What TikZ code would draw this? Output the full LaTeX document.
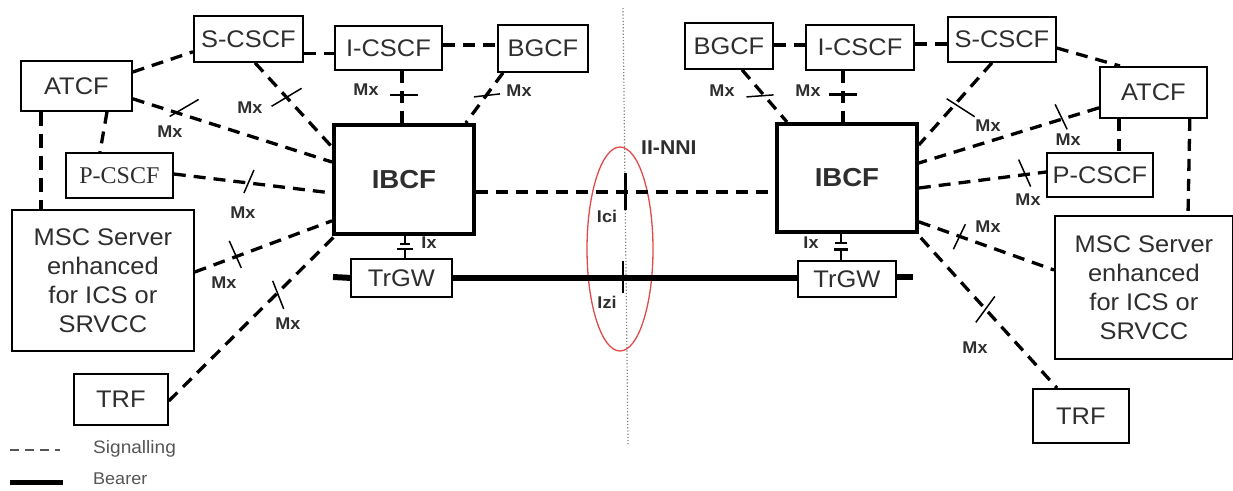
\documentclass[tikz,border=0pt]{standalone}
\usepackage{fontspec}
\setmainfont{Liberation Sans}[FakeStretch=1.06]
\newfontfamily\serifx{Liberation Serif}
\usetikzlibrary{calc,shapes.geometric}
\definecolor{txt}{HTML}{2E2E2E}
\definecolor{ovalred}{HTML}{E04A4A}
\definecolor{legtxt}{HTML}{555555}
\begin{document}
\begin{tikzpicture}[x=1pt,y=-1pt,
 box/.style={draw, line width=1.8pt, inner sep=0pt, anchor=north west, text=txt, font=\fontsize{24}{29}\selectfont, align=center},
 thickbox/.style={box, line width=3.8pt, font=\fontsize{26}{28}\selectfont\bfseries},
 sig/.style={line width=3.3pt, dash pattern=on 12pt off 8pt},
 sigheavy/.style={line width=4.5pt, dash pattern=on 14pt off 8pt},
 tk/.style={line width=1.5pt},
 ixline/.style={line width=2.4pt},
 lbl/.style={font=\fontsize{17}{18}\selectfont\bfseries, text=txt, inner sep=0pt},
 bearer/.style={line width=6pt},
 legend/.style={font=\fontsize{18}{20}\selectfont, text=legtxt, inner sep=0pt, anchor=west},
]
\useasboundingbox (0,0) rectangle (1233,490);

% ---------- left side nodes
\node[box, minimum width=111, minimum height=50] (atcfL) at (20,60) {ATCF};
\node[box, minimum width=109, minimum height=46] (scscfL) at (193,15) {S-CSCF};
\node[box, minimum width=107, minimum height=44] (icscfL) at (334,25) {I-CSCF};
\node[box, minimum width=90, minimum height=47] (bgcfL) at (497,24) {BGCF};
\node[thickbox, minimum width=140, minimum height=109] (ibcfL) at (332,123) {IBCF};
\node[box, minimum width=107, minimum height=45, font=\serifx\fontsize{24}{26}\selectfont] (pcscfL) at (65,152) {P-CSCF};
\node[box, minimum width=182, minimum height=141] (mscL) at (11,209) {MSC Server\\enhanced\\for ICS or\\SRVCC};
\node[box, minimum width=94, minimum height=51] (trfL) at (73,373) {TRF};
\node[box, minimum width=101, minimum height=38] (trgwL) at (350,258) {TrGW};

% ---------- right side nodes
\node[box, minimum width=88, minimum height=46] (bgcfR) at (684,22) {BGCF};
\node[box, minimum width=108, minimum height=45] (icscfR) at (805,24) {I-CSCF};
\node[box, minimum width=108, minimum height=45] (scscfR) at (947,16) {S-CSCF};
\node[box, minimum width=107, minimum height=51] (atcfR) at (1099,66) {ATCF};
\node[box, minimum width=106, minimum height=44] (pcscfR) at (1046,152) {P-CSCF};
\node[thickbox, minimum width=140, minimum height=108] (ibcfR) at (775,122) {IBCF};
\node[box, minimum width=178, minimum height=143] (mscR) at (1054,215) {MSC Server\\enhanced\\for ICS or\\SRVCC};
\node[box, minimum width=96, minimum height=54] (trfR) at (1032,388) {TRF};
\node[box, minimum width=98, minimum height=36] (trgwR) at (797,260) {TrGW};

% ---------- divider and oval
\coordinate (divtop) at (623,8);
\coordinate (divbot) at (628,444);
\draw[gray, dotted, line width=1.2pt] (divtop) -- (divbot);
\node[draw=ovalred, line width=1.3pt, ellipse, minimum width=66, minimum height=204, inner sep=0pt] (oval) at (620,249) {};
\node[font=\fontsize{20}{22}\selectfont\bfseries, text=txt, inner sep=0pt, anchor=west] (nni) at (641,148) {II-NNI};

% ---------- left connectors
\draw[sig] ($(atcfL.north east)+(0,12)$) -- ($(scscfL.south west)+(0,-11)$);
\draw[sig] ($(scscfL.south east)+(0,-9)$) -- ($(icscfL.south west)+(0,-17)$);
\draw[sig] ($(icscfL.north east)+(0,20)$) -- ($(bgcfL.north west)+(0,21)$);

\draw[sig] ($(scscfL.south west)+(62,0)$) -- coordinate[pos=0.41] (t4) ($(ibcfL.north west)+(0,24)$);
\draw[tk] ($(t4)+(-15,9)$) -- ($(t4)+(15,-9)$);
\node[lbl] (mx4) at (250,108) {Mx};

\draw[sig] ($(atcfL.south east)+(0,-13)$) -- coordinate[pos=0.2] (t5) ($(ibcfL.north west)+(0,39)$);
\draw[tk] ($(t5)+(-3,5)$) -- ($(t5)+(26,-12)$);
\node[lbl] (mx5) at (170,132) {Mx};

\draw[sig] ($(atcfL.south west)+(87,0)$) -- ($(pcscfL.north west)+(35,0)$);
\draw[sigheavy] ($(atcfL.south west)+(21,0)$) -- ($(mscL.north west)+(30,0)$);

\draw[sig] ($(pcscfL.north east)+(0,22)$) -- coordinate[pos=0.475] (t8) ($(ibcfL.north west)+(0,70)$);
\draw[tk] ($(t8)+(-5,10)$) -- ($(t8)+(5,-13)$);
\node[lbl] (mx8) at (243,213) {Mx};

\draw[sig] ($(mscL.north east)+(0,63)$) -- coordinate[pos=0.295] (t9) ($(ibcfL.south west)+(0,-15)$);
\draw[tk] ($(t9)+(-6,-16)$) -- ($(t9)+(6,11)$);
\node[lbl] (mx9) at (224,283) {Mx};

\draw[sig] ($(trfL.north east)+(0,28)$) -- coordinate[pos=0.655] (t10) ($(ibcfL.south west)+(3,0)$);
\draw[tk] ($(t10)+(-5,-12)$) -- ($(t10)+(6,16)$);
\node[lbl] (mx10) at (288,324) {Mx};

\draw[sig] ($(icscfL.south west)+(68,0)$) -- coordinate[pos=0.46] (t11) ($(ibcfL.north west)+(70,0)$);
\draw[ixline] ($(t11)+(-12,0)$) -- ($(t11)+(16,0)$);
\node[lbl] (mx11) at (366,90) {Mx};

\draw[sig] ($(bgcfL.south west)+(6,0)$) -- coordinate[pos=0.46] (t12) ($(ibcfL.north east)+(-10,0)$);
\draw[tk] ($(t12)+(-12,1)$) -- ($(t12)+(14,-2)$);
\node[lbl] (mx12) at (519,91) {Mx};

% Ix left
\coordinate (ixLa) at ($(ibcfL.south west)+(73,0)$);
\coordinate (ixLb) at ($(trgwL.north west)+(55,0)$);
\draw[ixline] (ixLa) -- ($(ixLa)!0.36!(ixLb)$) ++(-5,0) -- ++(10,0);
\draw[ixline] (ixLb) -- ($(ixLa)!0.6!(ixLb)$) ++(-8,0) -- ++(16,0);
\node[lbl] (ixl) at (429,243) {Ix};

% ---------- right connectors
\draw[sig] ($(bgcfR.north east)+(0,23)$) -- ($(icscfR.north west)+(0,21)$);
\draw[sig] ($(icscfR.north east)+(0,20)$) -- ($(scscfR.north west)+(0,28)$);
\draw[sig] ($(scscfR.north east)+(0,32)$) -- ($(atcfR.north west)+(21,0)$);

\draw[sig] ($(bgcfR.south west)+(58,0)$) -- coordinate[pos=0.5] (r4) ($(ibcfR.north west)+(12,0)$);
\draw[tk] ($(r4)+(-18,1)$) -- ($(r4)+(9,-1)$);
\node[lbl] (mxr4) at (722,91) {Mx};

\draw[sig] ($(icscfR.south west)+(38,0)$) -- coordinate[pos=0.46] (r5) ($(ibcfR.north west)+(68,0)$);
\draw[ixline] ($(r5)+(-14,0)$) -- ($(r5)+(14,0)$);
\node[lbl] (mxr5) at (808,91) {Mx};

\draw[sig] ($(scscfR.south west)+(45,0)$) -- coordinate[pos=0.51] (r6) ($(ibcfR.north east)+(0,23)$);
\draw[tk] ($(r6)+(-8,-6)$) -- ($(r6)+(20,12)$);
\node[lbl] (mxr6) at (988,126) {Mx};

\draw[sig] ($(atcfR.south west)+(0,-11)$) -- coordinate[pos=0.21] (r7) ($(ibcfR.north east)+(0,41)$);
\draw[tk] ($(r7)+(-6,-15)$) -- ($(r7)+(6,10)$);
\node[lbl] (mxr7) at (1068,140) {Mx};

\draw[sig] ($(atcfR.south west)+(20,0)$) -- ($(pcscfR.north west)+(73,0)$);
\draw[sig] ($(atcfR.south east)+(-18,0)$) -- ($(mscR.north west)+(134,0)$);

\draw[sig] ($(ibcfR.north east)+(0,66)$) -- coordinate[pos=0.84] (r10) ($(pcscfR.north west)+(0,20)$);
\draw[tk] ($(r10)+(-7,-15)$) -- ($(r10)+(5,12)$);
\node[lbl] (mxr10) at (1028,200) {Mx};

\draw[sig] ($(ibcfR.south east)+(0,-12)$) -- coordinate[pos=0.3] (r11) ($(mscR.north west)+(0,55)$);
\draw[tk] ($(r11)+(-6,13)$) -- ($(r11)+(6,-12)$);
\node[lbl] (mxr11) at (988,227) {Mx};

\draw[sig] ($(ibcfR.south east)+(2,4)$) -- coordinate[pos=0.47] (r12) ($(trfR.north west)+(25,0)$);
\draw[tk] ($(r12)+(-9,14)$) -- ($(r12)+(10,-12)$);
\node[lbl] (mxr12) at (975,348) {Mx};

% Ix right
\coordinate (ixRa) at ($(ibcfR.south west)+(66,0)$);
\coordinate (ixRb) at ($(trgwR.north west)+(44,0)$);
\draw[ixline] (ixRa) -- ($(ixRa)!0.36!(ixRb)$) ++(-6,0) -- ++(12,0);
\draw[ixline] (ixRb) -- ($(ixRa)!0.6!(ixRb)$) ++(-7,0) -- ++(14,0);
\node[lbl] (ixr) at (811,243) {Ix};

% ---------- inter-network
\draw[sig] ($(ibcfL.north east)+(0,69)$) -- coordinate[pos=0.5] (ici) ($(ibcfR.north west)+(0,70)$);
\draw[line width=2.4pt] ($(ici)+(0,-19)$) -- ($(ici)+(0,18)$);
\node[lbl] (icil) at (607,216) {Ici};

\coordinate (bL) at (333,277);
\coordinate (bR) at (913,277);
\draw[bearer] (bL) -- (trgwL.west);
\draw[bearer] (trgwL.east) -- coordinate[pos=0.5] (izi) (trgwL.east -| trgwR.west);
\draw[bearer] (trgwR.east |- bR) -- (bR);
\draw[line width=2.4pt] (623,261) -- (623,293);
\node[lbl] (izil) at (607,302) {Izi};

% ---------- legend
\coordinate (lg1a) at (10,450);
\coordinate (lg1b) at (60,450);
\draw[line width=1.4pt, dash pattern=on 9pt off 6pt, legtxt] (lg1a) -- (lg1b);
\node[legend] (sigtxt) at (93,449) {Signalling};
\coordinate (lg2a) at (10,482);
\coordinate (lg2b) at (63,482);
\draw[line width=5pt] (lg2a) -- (lg2b);
\node[legend, font=\fontsize{17}{19}\selectfont] (beartxt) at (93,479) {Bearer};
\end{tikzpicture}
\end{document}
